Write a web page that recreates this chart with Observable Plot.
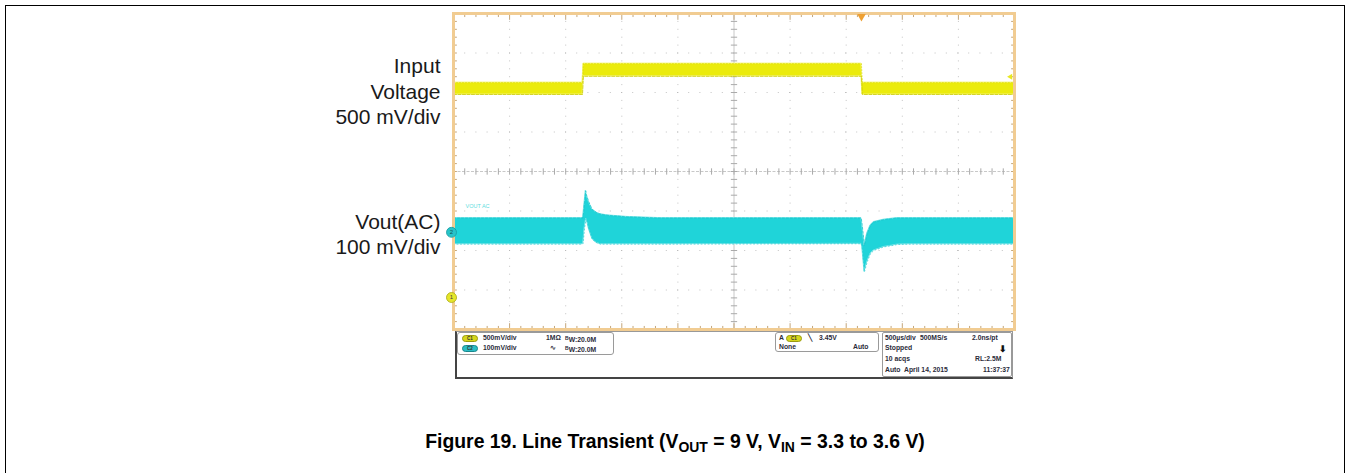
<!DOCTYPE html>
<html><head><meta charset="utf-8">
<script src="https://cdn.jsdelivr.net/npm/d3@7"></script>
<script src="https://cdn.jsdelivr.net/npm/@observablehq/plot@0.6"></script>
<style>
body{margin:0;background:#fff;font-family:"Liberation Sans",Arial,sans-serif;}
#page{position:relative;width:1350px;height:473px;overflow:hidden;}
#border{position:absolute;left:5px;top:5px;width:1338px;height:540px;border:1.5px solid #000;}
#chart{position:absolute;left:0;top:0;}
#caption{position:absolute;left:0;width:1350px;top:432px;text-align:center;font-weight:bold;font-size:19.4px;line-height:19px;color:#000;}
#caption sub{font-size:0.72em;vertical-align:-0.3em;line-height:0;}
.pnl{position:absolute;box-sizing:border-box;}
.t{position:absolute;font-size:6.8px;line-height:8px;font-weight:bold;color:#2b2b3a;white-space:nowrap;}
.pill{position:absolute;width:16px;height:7px;border-radius:4px;font-size:4.5px;line-height:6px;text-align:center;color:#333;font-weight:bold;box-sizing:border-box;}
</style></head>
<body><div id="page">
<div id="border"></div>
<div id="chart"></div>
<div class="pnl" style="left:455px;top:331px;width:558px;height:48px;border:1px solid #999;border-left:2px solid #444;border-bottom:2px solid #444;background:#fff"></div>
<div class="pnl" style="left:457px;top:332px;width:157px;height:23px;border:1px solid #9a9a9a;border-radius:3px"></div>
<div class="pnl" style="left:775px;top:332px;width:104px;height:20px;border:1px solid #9a9a9a;border-radius:3px"></div>
<div class="pnl" style="left:882px;top:332px;width:130px;height:45px;border:1px solid #9a9a9a;border-radius:2px"></div>
<div id="info"></div>
<div id="caption">Figure 19. Line Transient (V<sub>OUT</sub> = 9 V, V<sub>IN</sub> = 3.3 to 3.6 V)</div>
</div>
<script>
// ---- data ----
// time axis in microseconds from the left edge of the screen (500 us/div, 10 div)
const vinTime = [0, 1150, 1158, 3636, 3644, 5000];
const vinHigh = [3.375, 3.375, 3.615, 3.615, 3.375, 3.375];   // V, upper edge of noise band
const vinLow  = [3.225, 3.225, 3.455, 3.455, 3.225, 3.225];   // V, lower edge of noise band

const voutTime = [0, 1150, 1156, 1168, 1179, 1185, 1206, 1236, 1266, 1281, 1310, 1370, 1548, 1845,
                  3634, 3642, 3663, 3687, 3717, 3746, 3806, 3835, 3922, 3955, 4073, 5000];
const voutHigh = [36, 36, 40, 75, 105, 95, 77, 58, 52, 49, 46, 43, 39, 36,
                  36, 20, -33, -3, 18, 26, 30, 32, 35, 36, 36, 36];          // mV
const voutLow  = [-30, -30, -28, 10, 30, 35, 9, -16, -25, -27, -30, -30, -30, -30,
                  -29, -35, -100, -75, -54, -46, -40, -37, -33, -31, -30, -30]; // mV

const leftLabels = ["Input\nVoltage\n500 mV/div", "Vout(AC)\n100 mV/div"];
const traceLabels = ["VOUT AC"];
const groundLabels = ["1", "2"];
const triggerTime = 3636;      // us
const triggerLevel = 3.45;     // V

// channel display settings (vertical position on the 8-division screen)
const ch1 = {perDiv: 0.5, refValue: 3.30, refDiv: 2.10, groundDiv: -3.19};
const ch2 = {perDiv: 100, refValue: 0, refDiv: -1.54, groundDiv: -1.54};
const toDiv = (ch, v) => (v - ch.refValue) / ch.perDiv + ch.refDiv;

const vin = vinTime.map((t, i) => ({t, hi: toDiv(ch1, vinHigh[i]), lo: toDiv(ch1, vinLow[i])}));
const vout = voutTime.map((t, i) => ({t, hi: toDiv(ch2, voutHigh[i]), lo: toDiv(ch2, voutLow[i])}));

const majorX = d3.range(500, 5000, 500).filter(d => d !== 2500);
const majorY = [-3, -2, -1, 1, 2, 3];
const minorX = d3.range(0, 5001, 100);
const minorY = d3.range(-4, 4.001, 0.2);

const FONT = "Liberation Sans";
const tickCol = "#c4a67a";
const plot = Plot.plot({
  width: 1350, height: 400,
  marginLeft: 453, marginRight: 336, marginTop: 13, marginBottom: 71,
  x: {domain: [0, 5000], axis: null},
  y: {domain: [-4, 4], axis: null},
  style: {background: "transparent", fontFamily: FONT},
  marks: [
    Plot.ruleX(majorX, {stroke: "#b4b4b4", strokeDasharray: "1,6.9", strokeOpacity: 0.8}),
    Plot.ruleY(majorY, {stroke: "#b4b4b4", strokeDasharray: "1,10.2", strokeOpacity: 0.8}),
    Plot.ruleX([2500], {stroke: "#c8c8c8"}),
    Plot.ruleY([0], {stroke: "#c8c8c8", strokeDasharray: "3,1.5"}),
    Plot.link(minorX, {x1: d => d, x2: d => d, y1: -0.08, y2: 0.08, stroke: "#aaa"}),
    Plot.link(minorY, {y1: d => d, y2: d => d, x1: 2472, x2: 2528, stroke: "#aaa"}),
    // frame ticks
    Plot.link(minorX, {x1: d => d, x2: d => d, y1: 4, y2: d => d % 500 === 0 ? 3.84 : 3.91, stroke: tickCol}),
    Plot.link(minorX, {x1: d => d, x2: d => d, y1: -4, y2: d => d % 500 === 0 ? -3.84 : -3.91, stroke: tickCol}),
    Plot.link(minorY, {y1: d => d, y2: d => d, x1: 0, x2: 30, stroke: tickCol}),
    Plot.link(minorY, {y1: d => d, y2: d => d, x1: 5000, x2: 4970, stroke: tickCol}),
    // traces
    Plot.areaY(vin, {x: "t", y1: "lo", y2: "hi", fill: "#ebeb0c", stroke: "#f3f366", strokeWidth: 1}),
    Plot.lineY(vin, {x: "t", y: "lo", stroke: "#c9c900", strokeWidth: 0.8, strokeDasharray: "3,1.5"}),
    Plot.lineY(vin, {x: "t", y: "hi", stroke: "#d6d600", strokeWidth: 0.6, strokeDasharray: "1,2"}),
    Plot.areaY(vout, {x: "t", y1: "lo", y2: "hi", fill: "#1fd4d9", stroke: "#6fe3e6", strokeWidth: 1}),
    Plot.lineY(vout, {x: "t", y: "hi", stroke: "#14c2c8", strokeWidth: 0.7, strokeDasharray: "2,2"}),
    Plot.lineY(vout, {x: "t", y: "lo", stroke: "#17c6cc", strokeWidth: 0.6, strokeDasharray: "1,2.5"}),
    Plot.frame({stroke: "#f1cc92", strokeWidth: 3}),
    // trace label
    Plot.text(traceLabels, {x: 107, y: -0.89, text: d => d, textAnchor: "start", fontSize: 5.5, fill: "#5fdde0", fontFamily: FONT}),
    // trigger markers
    Plot.dot([triggerTime], {x: d => d, y: 4, symbol: "triangle", rotate: 180, r: 3.2, fill: "#eea032", dy: 3}),
    Plot.dot([triggerLevel], {x: 5000, y: d => toDiv(ch1, d), symbol: "triangle", rotate: -90, r: 2.2, fill: "#e8e820", dx: -4}),
    // ground markers
    Plot.dot([ch1.groundDiv], {x: 0, y: d => d, r: 5, fill: "#e6e62a", stroke: "#aaaa10", strokeWidth: 0.8, dx: -2}),
    Plot.text([groundLabels[0]], {x: 0, y: ch1.groundDiv, text: d => d, fontSize: 6, fill: "#444", dx: -2, fontFamily: FONT}),
    Plot.dot([ch2.groundDiv], {x: 0, y: d => d, r: 5, fill: "#27c4c9", stroke: "#169aa0", strokeWidth: 0.8, dx: -2}),
    Plot.text([groundLabels[1]], {x: 0, y: ch2.groundDiv, text: d => d, fontSize: 6, fill: "#155", dx: -2, fontFamily: FONT}),
    // left descriptive labels
    Plot.text(leftLabels, {x: 0, y: (d, i) => i === 0 ? 2.05 : -1.56, text: d => d, dx: -13, textAnchor: "end",
      fontSize: 21, lineHeight: 1.21, fill: "#1a1a1a", fontFamily: FONT})
  ]
});
document.getElementById("chart").appendChild(plot);

// ---- oscilloscope status panel (text) ----
const info = [
  {x: 483, y: 338, s: "500mV/div"}, {x: 546, y: 338, s: "1MΩ"},
  {x: 565, y: 338, s: '<span style="font-size:5px;vertical-align:2px">B</span>W:20.0M'},
  {x: 483, y: 348, s: "100mV/div"}, {x: 550, y: 348, s: "∿"},
  {x: 565, y: 348, s: '<span style="font-size:5px;vertical-align:2px">B</span>W:20.0M'},
  {x: 779, y: 338, s: "A"}, {x: 808, y: 338, s: "╲"}, {x: 819, y: 338, s: "3.45V"},
  {x: 779, y: 347, s: "None"}, {x: 853, y: 347, s: "Auto"},
  {x: 885, y: 338, s: "500µs/div"}, {x: 920, y: 338, s: "500MS/s"}, {x: 972, y: 338, s: "2.0ns/pt"},
  {x: 885, y: 348, s: "Stopped"},
  {x: 885, y: 359, s: "10 acqs"}, {x: 975, y: 359, s: "RL:2.5M"},
  {x: 885, y: 370, s: "Auto"}, {x: 904, y: 370, s: "April 14, 2015"}, {x: 983, y: 370, s: "11:37:37"}
];
const pills = [{x: 462, y: 338, c: "#d6d61c", b: "#9a9a10", s: "C1"}, {x: 462, y: 348, c: "#2bbcc4", b: "#18868c", s: "C2"},
               {x: 786, y: 338, c: "#d6d61c", b: "#9a9a10", s: "C1"}];
const box = document.getElementById("info");
info.forEach(d => { const e = document.createElement("div"); e.className = "t";
  e.style.left = d.x + "px"; e.style.top = (d.y - 4) + "px"; e.innerHTML = d.s; box.appendChild(e); });
pills.forEach(d => { const e = document.createElement("div"); e.className = "pill";
  e.style.left = d.x + "px"; e.style.top = (d.y - 3.5) + "px"; e.style.background = d.c; e.style.border = "1px solid " + d.b;
  e.textContent = d.s; box.appendChild(e); });
const arrow = document.createElement("div"); arrow.className = "t";
arrow.style.cssText = "left:999px;top:345px;font-size:9px;line-height:9px;color:#111"; arrow.textContent = "⬇"; box.appendChild(arrow);
</script>
</body></html>
